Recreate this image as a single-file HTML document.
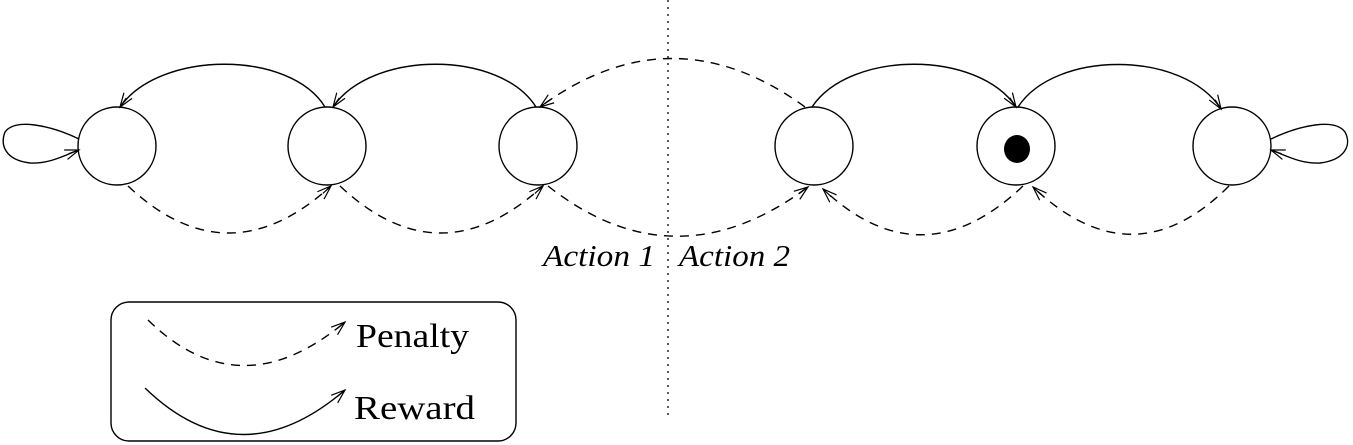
<!DOCTYPE html>
<html><head><style>html,body{margin:0;padding:0;background:#fff}svg{display:block}</style></head><body>
<svg width="1353" height="445" viewBox="0 0 1353 445" xmlns="http://www.w3.org/2000/svg">
<defs>
<marker id="a" markerWidth="16" markerHeight="12" refX="14" refY="6" orient="auto" markerUnits="userSpaceOnUse">
<path d="M0,1 L14,6 L0,11 M3,6 L14,6" fill="none" stroke="#000" stroke-width="1.2"/>
</marker>
</defs>
<g fill="none" stroke="#000" stroke-width="1.4">
<ellipse cx="117" cy="146" rx="39" ry="39"/>
<ellipse cx="327" cy="146" rx="39" ry="39"/>
<ellipse cx="538" cy="146" rx="39" ry="39"/>
<ellipse cx="814" cy="146" rx="39" ry="39"/>
<ellipse cx="1016" cy="146" rx="39" ry="39"/>
<ellipse cx="1232" cy="146" rx="39" ry="39"/>
<path d="M79,139 C50,125 15,118 5,132 C0,145 5,160 30,163 C50,164 65,155 79,150" marker-end="url(#a)"/>
<path d="M1271,139 C1300,125 1335,118 1345,132 C1352,145 1345,160 1320,163 C1300,164 1285,155 1271,150" marker-end="url(#a)"/>
<path d="M325,107 C290,50 160,50 120,107" marker-end="url(#a)"/>
<path d="M536,107 C500,50 372,50 333,107" marker-end="url(#a)"/>
<path d="M812,107 C850,50 978,50 1016,107" marker-end="url(#a)"/>
<path d="M1018,107 C1055,50 1183,50 1221,109" marker-end="url(#a)"/>
</g>
<g fill="none" stroke="#000" stroke-width="1.4" stroke-dasharray="9,7">
<path d="M805,107 Q672,10 540,107" marker-end="url(#a)"/>
<path d="M128,186 Q228,280 331,186" marker-end="url(#a)"/>
<path d="M340,186 Q440,280 543,186" marker-end="url(#a)"/>
<path d="M548,186 Q675,286 808,187" marker-end="url(#a)"/>
<path d="M1023,186 Q922,282 823,189" marker-end="url(#a)"/>
<path d="M1229,186 Q1133,282 1033,187" marker-end="url(#a)"/>
<path d="M148,320 Q240,410 345,322" marker-end="url(#a)"/>
</g>
<path d="M145,388 Q240,480 345,390" fill="none" stroke="#000" stroke-width="1.4" marker-end="url(#a)"/>
<ellipse cx="1017" cy="149" rx="13" ry="14" fill="#000"/>
<line x1="668" y1="0" x2="668" y2="420" stroke="#000" stroke-width="1.3" stroke-dasharray="2,5"/>
<rect x="111" y="302" width="405" height="139" rx="18" fill="none" stroke="#000" stroke-width="1.4"/>
<g font-family="Liberation Serif, serif" fill="#000">
<text x="543" y="266" font-size="31" font-style="italic" textLength="112" lengthAdjust="spacingAndGlyphs">Action 1</text>
<text x="679" y="266" font-size="31" font-style="italic" textLength="111" lengthAdjust="spacingAndGlyphs">Action 2</text>
<text x="356" y="347" font-size="34" textLength="113" lengthAdjust="spacingAndGlyphs">Penalty</text>
<text x="354" y="419" font-size="34" textLength="121" lengthAdjust="spacingAndGlyphs">Reward</text>
</g>
</svg>
</body></html>
